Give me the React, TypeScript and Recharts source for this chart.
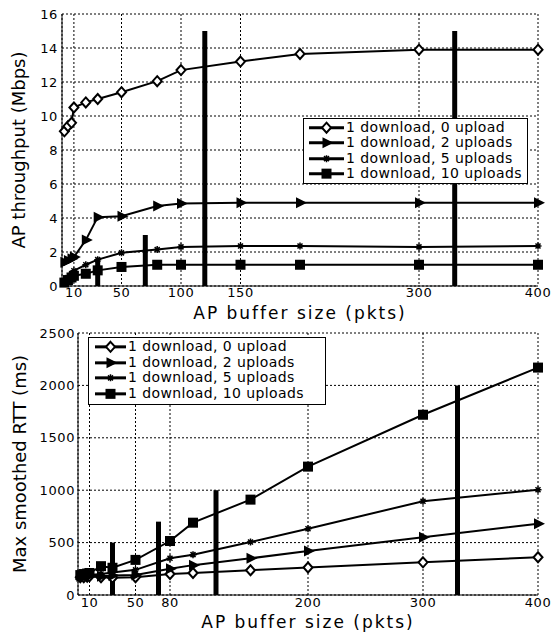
import React from "react";
import {
  CartesianGrid,
  Label,
  Legend,
  Line,
  LineChart,
  ReferenceLine,
  XAxis,
  YAxis,
} from "recharts";

// buffer sizes (pkts) at which each run was measured
const bufferSizes = [2, 5, 8, 10, 20, 30, 50, 80, 100, 150, 200, 300, 400];

// AP throughput (Mbps)
const tputUp0 = [9.1, 9.4, 9.6, 10.5, 10.8, 11.0, 11.4, 12.05, 12.7, 13.2, 13.65, 13.9, 13.9];
const tputUp2 = [1.4, 1.5, 1.6, 1.7, 2.7, 4.05, 4.1, 4.7, 4.85, 4.9, 4.9, 4.9, 4.9];
const tputUp5 = [0.3, 0.5, 0.7, 0.9, 1.25, 1.55, 1.95, 2.15, 2.3, 2.35, 2.35, 2.3, 2.35];
const tputUp10 = [0.2, 0.35, 0.5, 0.6, 0.72, 0.92, 1.12, 1.25, 1.25, 1.25, 1.25, 1.25, 1.25];

// max smoothed RTT (ms)
const rttUp0 = [170, 170, 175, 180, 170, 165, 170, 200, 210, 236, 262, 312, 360];
const rttUp2 = [180, 180, 185, 185, 180, 185, 190, 250, 285, 350, 420, 550, 680];
const rttUp5 = [175, 180, 185, 190, 200, 215, 240, 350, 385, 505, 632, 895, 1005];
const rttUp10 = [190, 200, 205, 210, 275, 260, 335, 515, 690, 910, 1225, 1720, 2170];

const seriesNames = [
  "1 download, 0 upload",
  "1 download, 2 uploads",
  "1 download, 5 uploads",
  "1 download, 10 uploads",
];
const markerKinds = ["diamond", "triangle", "star", "square"];

// thick vertical markers drawn over both plots
const barPositions = [30, 70, 120, 330];
const tputBarHeights = [1.5, 3, 15, 15];
const rttBarHeights = [500, 700, 1000, 2000];

const tputTicksX = [10, 50, 100, 150, 300, 400];
const tputTicksY = [0, 2, 4, 6, 8, 10, 12, 14, 16];
const rttTicksX = [10, 50, 80, 200, 300, 400];
const rttTicksY = [0, 500, 1000, 1500, 2000, 2500];

const tputRows = bufferSizes.map((x, i) => ({
  x,
  s0: tputUp0[i],
  s1: tputUp2[i],
  s2: tputUp5[i],
  s3: tputUp10[i],
}));
const rttRows = bufferSizes.map((x, i) => ({
  x,
  s0: rttUp0[i],
  s1: rttUp2[i],
  s2: rttUp5[i],
  s3: rttUp10[i],
}));

const FONT = "'DejaVu Sans', 'Liberation Sans', Arial, sans-serif";
const tickStyle = { fontFamily: FONT, fontSize: 13, fill: "#000", letterSpacing: 0.6 };
const axisLabelStyle = {
  fontFamily: FONT,
  fontSize: 17,
  fill: "#000",
  letterSpacing: 2,
};

function Marker({ kind, cx, cy }: { kind: string; cx?: number; cy?: number }) {
  if (cx == null || cy == null) return null;
  if (kind === "diamond") {
    return (
      <path
        d={`M${cx},${cy - 5}L${cx + 4.5},${cy}L${cx},${cy + 5}L${cx - 4.5},${cy}Z`}
        fill="#fff"
        stroke="#000"
        strokeWidth={2}
      />
    );
  }
  if (kind === "triangle") {
    return (
      <path
        d={`M${cx - 4},${cy - 5.5}L${cx + 7},${cy}L${cx - 4},${cy + 5.5}Z`}
        fill="#000"
      />
    );
  }
  if (kind === "star") {
    return (
      <path
        d={`M${cx - 3.5},${cy}H${cx + 3.5}M${cx},${cy - 3.5}V${cy + 3.5}M${cx - 2.5},${cy - 2.5}L${cx + 2.5},${cy + 2.5}M${cx - 2.5},${cy + 2.5}L${cx + 2.5},${cy - 2.5}`}
        stroke="#000"
        strokeWidth={1.5}
        fill="none"
      />
    );
  }
  return <rect x={cx - 5} y={cy - 5} width={10} height={10} fill="#000" />;
}

function LegendBox({
  left,
  top,
  width,
  lineFrom,
  lineTo,
  rowHeight,
}: {
  left: number;
  top: number;
  width: number;
  lineFrom: number;
  lineTo: number;
  rowHeight: number;
}) {
  return (
    <div
      style={{
        position: "absolute",
        left,
        top,
        width,
        background: "#fff",
        border: "1px solid #000",
        padding: "1px 0 2px 0",
        boxSizing: "border-box",
      }}
    >
      {seriesNames.map((name, i) => (
        <div
          key={name}
          style={{ display: "flex", alignItems: "center", height: rowHeight }}
        >
          <svg width={lineTo + 2} height={rowHeight} style={{ flex: "none" }}>
            <line
              x1={lineFrom}
              x2={lineTo}
              y1={rowHeight / 2}
              y2={rowHeight / 2}
              stroke="#000"
              strokeWidth={3}
            />
            <Marker
              kind={markerKinds[i]}
              cx={(lineFrom + lineTo) / 2}
              cy={rowHeight / 2}
            />
          </svg>
          <span
            style={{
              fontFamily: FONT,
              fontSize: 14,
              letterSpacing: 0.4,
              lineHeight: `${rowHeight}px`,
              whiteSpace: "nowrap",
              color: "#000",
            }}
          >
            {name}
          </span>
        </div>
      ))}
    </div>
  );
}

function seriesLines() {
  return markerKinds.map((kind, i) => (
    <Line
      key={kind}
      type="linear"
      dataKey={`s${i}`}
      name={seriesNames[i]}
      stroke="#000"
      strokeWidth={2}
      dot={(p: any) => (
        <Marker key={`${kind}-${p.index}`} kind={kind} cx={p.cx} cy={p.cy} />
      )}
      activeDot={false}
      isAnimationActive={false}
    />
  ));
}

function markerBars(heights: number[]) {
  return barPositions.map((x, i) => (
    <ReferenceLine
      key={x}
      segment={[
        { x, y: 0 },
        { x, y: heights[i] },
      ]}
      stroke="#000"
      strokeWidth={5}
    />
  ));
}

export default function App() {
  return (
    <div
      style={{
        position: "absolute",
        left: 0,
        top: 0,
        width: 552,
        height: 633,
        background: "#fff",
      }}
    >
      <div style={{ position: "absolute", left: 0, top: 0 }}>
        <LineChart
          width={552}
          height={332}
          data={tputRows}
          margin={{ top: 14, right: 14, bottom: 10, left: 0 }}
        >
          <CartesianGrid stroke="#000" strokeDasharray="2 2" />
          <XAxis
            dataKey="x"
            type="number"
            domain={[0, 400]}
            ticks={tputTicksX}
            interval={0}
            height={36}
            tickSize={0}
            tickMargin={2}
            axisLine={{ stroke: "#000" }}
            tick={tickStyle}
          >
            <Label
              value="AP buffer size (pkts)"
              position="insideBottom"
              offset={3}
              style={axisLabelStyle}
            />
          </XAxis>
          <YAxis
            type="number"
            domain={[0, 16]}
            ticks={tputTicksY}
            interval={0}
            width={62}
            tickSize={0}
            tickMargin={4}
            axisLine={{ stroke: "#000" }}
            tick={tickStyle}
          >
            <Label
              value="AP throughput (Mbps)"
              angle={-90}
              position="insideLeft"
              offset={19}
              style={{ ...axisLabelStyle, fontSize: 18, letterSpacing: 0, textAnchor: "middle" }}
            />
          </YAxis>
          {seriesLines()}
          {markerBars(tputBarHeights)}
          <Legend
            layout="horizontal"
            align="center"
            verticalAlign="middle"
            wrapperStyle={{ left: 0, top: 0, width: 0, height: 0 }}
            content={() => (
              <LegendBox
                left={303}
                top={118}
                width={225}
                lineFrom={5}
                lineTo={40}
                rowHeight={15.3}
              />
            )}
          />
        </LineChart>
      </div>
      <div style={{ position: "absolute", left: 0, top: 322 }}>
        <LineChart
          width={552}
          height={311}
          data={rttRows}
          margin={{ top: 11, right: 14, bottom: 0, left: 0 }}
        >
          <CartesianGrid stroke="#000" strokeDasharray="2 2" />
          <XAxis
            dataKey="x"
            type="number"
            domain={[0, 400]}
            ticks={rttTicksX}
            interval={0}
            height={38}
            tickSize={0}
            tickMargin={3}
            axisLine={{ stroke: "#000" }}
            tick={tickStyle}
          >
            <Label
              value="AP buffer size (pkts)"
              position="insideBottom"
              offset={5}
              style={axisLabelStyle}
            />
          </XAxis>
          <YAxis
            type="number"
            domain={[0, 2500]}
            ticks={rttTicksY}
            interval={0}
            width={78}
            tickSize={0}
            tickMargin={3}
            axisLine={{ stroke: "#000" }}
            tick={tickStyle}
          >
            <Label
              value="Max smoothed RTT (ms)"
              angle={-90}
              position="insideLeft"
              offset={20}
              style={{ ...axisLabelStyle, fontSize: 18, letterSpacing: 0, textAnchor: "middle" }}
            />
          </YAxis>
          {seriesLines()}
          {markerBars(rttBarHeights)}
          <Legend
            layout="horizontal"
            align="center"
            verticalAlign="middle"
            wrapperStyle={{ left: 0, top: 0, width: 0, height: 0 }}
            content={() => (
              <LegendBox
                left={88}
                top={15}
                width={238}
                lineFrom={6}
                lineTo={37}
                rowHeight={15.7}
              />
            )}
          />
        </LineChart>
      </div>
    </div>
  );
}
